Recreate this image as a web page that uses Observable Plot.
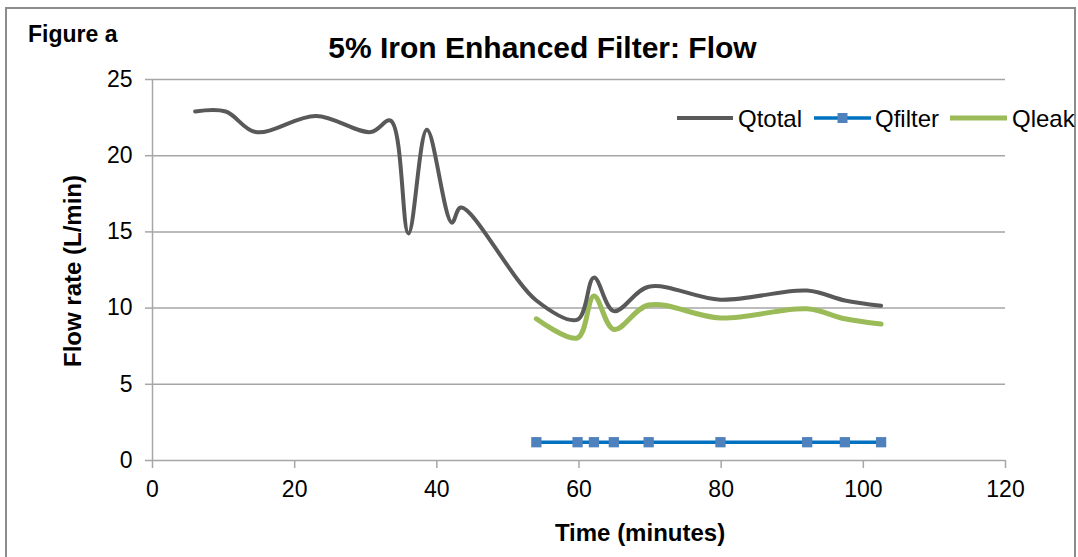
<!DOCTYPE html>
<html>
<head>
<meta charset="utf-8">
<script src="https://cdn.jsdelivr.net/npm/d3@7"></script>
<script src="https://cdn.jsdelivr.net/npm/@observablehq/plot@0.6"></script>
<style>
  html, body { margin: 0; padding: 0; background: #fff; overflow: hidden; }
  #wrap { position: relative; width: 1078px; height: 557px; overflow: hidden; background: #fff; }
  #wrap > svg { position: absolute; left: 0; top: 0; }
  #overlay { pointer-events: none; }
</style>
</head>
<body>
<div id="wrap"></div>
<script>
// ---- data ----
const totalTime  = [6.0, 10.3, 14.5, 23.0, 30.7, 33.5, 36.0, 38.6, 42.1, 43.4, 54.0, 59.8, 62.1, 64.9, 69.8, 79.9, 92.1, 97.4, 102.5];
const qtotal     = [22.9, 22.9, 21.55, 22.6, 21.55, 22.3, 14.9, 21.7, 15.6, 16.6, 10.5, 9.25, 12.0, 9.8, 11.4, 10.55, 11.15, 10.5, 10.15];
const sampleTime = [54.0, 59.8, 62.1, 64.9, 69.8, 79.9, 92.1, 97.4, 102.5];
const qfilter    = [1.2, 1.2, 1.2, 1.2, 1.2, 1.2, 1.2, 1.2, 1.2];
const qleak      = [9.3, 8.05, 10.8, 8.6, 10.2, 9.35, 9.95, 9.3, 8.95];
const xTicks = [0, 20, 40, 60, 80, 100, 120];
const yTicks = [0, 5, 10, 15, 20, 25];
const seriesNames = ["Qtotal", "Qfilter", "Qleak"];
const colors = {Qtotal: "#595959", Qfilter: "#0070c0", Qleak: "#9bbb59"};
const markerColor = "#4f81bd";

const totalData  = totalTime.map((t, i) => ({t, v: qtotal[i]}));
const filterData = sampleTime.map((t, i) => ({t, v: qfilter[i]}));
const leakData   = sampleTime.map((t, i) => ({t, v: qleak[i]}));

const FONT = "'Liberation Sans', Arial, Helvetica, sans-serif";
const gridColor = "#a6a6a6";

const chart = Plot.plot({
  width: 1078,
  height: 557,
  marginLeft: 152,
  marginRight: 73,
  marginTop: 79,
  marginBottom: 97,
  style: {fontFamily: FONT, fontSize: "23px", color: "#000", background: "transparent", overflow: "visible"},
  x: {domain: [0, 120], ticks: xTicks, label: null},
  y: {domain: [0, 25], ticks: yTicks, label: null},
  marks: [
    Plot.ruleY(yTicks, {stroke: gridColor, strokeWidth: 1.5}),
    Plot.ruleX([0], {stroke: gridColor, strokeWidth: 1.5}),
    Plot.axisX({ticks: xTicks, tickSize: 8, tickPadding: 12, stroke: gridColor, strokeWidth: 1.5, fill: "#000", fontSize: 23, label: null}),
    Plot.axisY({ticks: yTicks, tickSize: 7, tickPadding: 13, stroke: gridColor, strokeWidth: 1.5, fill: "#000", fontSize: 23, label: null}),
    Plot.line(leakData, {x: "t", y: "v", stroke: colors.Qleak, strokeWidth: 5, curve: "catmull-rom"}),
    Plot.line(totalData, {x: "t", y: "v", stroke: colors.Qtotal, strokeWidth: 4, curve: "catmull-rom"}),
    Plot.line(filterData, {x: "t", y: "v", stroke: colors.Qfilter, strokeWidth: 3.5}),
    Plot.dot(filterData, {x: "t", y: "v", symbol: "square", r: 5.8, fill: markerColor, stroke: "none"})
  ]
});

const wrap = document.getElementById("wrap");
wrap.appendChild(chart);

// ---- overlay: frame, titles, axis titles, legend ----
const NS = "http://www.w3.org/2000/svg";
const ov = document.createElementNS(NS, "svg");
ov.setAttribute("id", "overlay");
ov.setAttribute("width", 1078);
ov.setAttribute("height", 557);
ov.setAttribute("font-family", FONT);
wrap.appendChild(ov);

function el(tag, attrs, text) {
  const e = document.createElementNS(NS, tag);
  for (const k in attrs) e.setAttribute(k, attrs[k]);
  if (text != null) e.textContent = text;
  ov.appendChild(e);
  return e;
}

el("path", {d: "M6,570 V8 H1075 V570", fill: "none", stroke: "#8c8c8c", "stroke-width": 2});
el("text", {x: 28, y: 41.7, "font-size": 23, "font-weight": "bold", fill: "#000"}, "Figure a");
el("text", {x: 542.5, y: 57.7, "font-size": 30, "font-weight": "bold", "text-anchor": "middle", fill: "#000"}, "5% Iron Enhanced Filter: Flow");
el("text", {x: 640, y: 540.7, "font-size": 24, "font-weight": "bold", "text-anchor": "middle", fill: "#000"}, "Time (minutes)");
el("text", {transform: "translate(81,271) rotate(-90)", "font-size": 24, "font-weight": "bold", "text-anchor": "middle", fill: "#000"}, "Flow rate (L/min)");

const legendItems = [
  {name: seriesNames[0], x0: 677, x1: 733, tx: 738, w: 4, marker: false},
  {name: seriesNames[1], x0: 814, x1: 871, tx: 875, w: 3.5, marker: true},
  {name: seriesNames[2], x0: 950, x1: 1007, tx: 1012, w: 5, marker: false}
];
for (const it of legendItems) {
  el("line", {x1: it.x0, x2: it.x1, y1: 118, y2: 118, stroke: colors[it.name], "stroke-width": it.w});
  if (it.marker) el("rect", {x: (it.x0 + it.x1) / 2 - 5, y: 113, width: 10, height: 10, fill: markerColor});
  el("text", {x: it.tx, y: 126.7, "font-size": 24, fill: "#000"}, it.name);
}
</script>
</body>
</html>
